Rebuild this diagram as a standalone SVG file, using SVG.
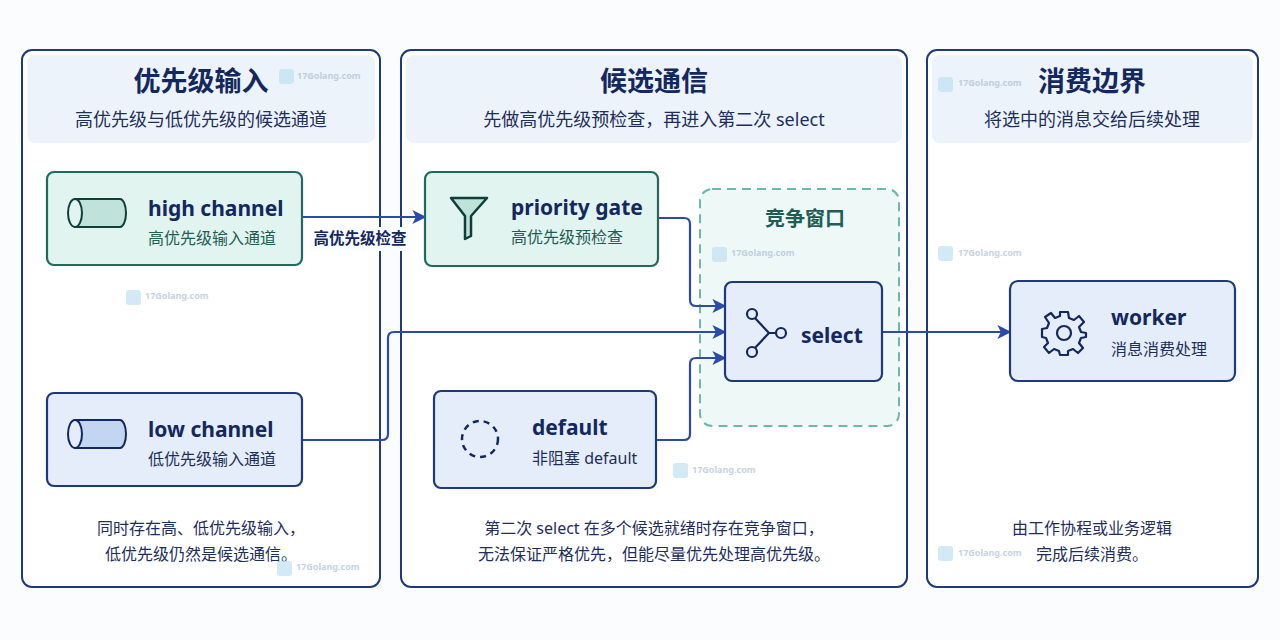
<svg xmlns="http://www.w3.org/2000/svg" width="1280" height="640" viewBox="0 0 1280 640">
<defs>
<style>
text{font-family:"Noto Sans","Noto Sans CJK SC",sans-serif}
.panel{fill:#ffffff;stroke:#1e3a7a;stroke-width:2}
.band{fill:#edf3fb}
.title{font-size:27px;font-weight:700;fill:#13285e;text-anchor:middle}
.sub{font-size:18px;fill:#1e2f5c;text-anchor:middle}
.foot{font-size:16px;fill:#1e2f5c;text-anchor:middle}
.tn{fill:#e2f4ef;stroke:#1f6b5e;stroke-width:2.2}
.bn{fill:#e4edf9;stroke:#1e3a7a;stroke-width:2.2}
.nt{font-size:21px;font-weight:700;fill:#13285e}
.ns{font-size:16px;fill:#1f5e55}
.nsb{font-size:16px;fill:#1e2f5c}
.conn{fill:none;stroke:#2c4ba8;stroke-width:2.2}
.wm{font-size:9px;font-weight:700;fill:#9fb6cf;opacity:0.6}
.wmi{fill:#bfe0f2;opacity:0.7}
</style>
<marker id="a" viewBox="0 0 10 10" refX="9" refY="5" markerWidth="14" markerHeight="14" orient="auto" markerUnits="userSpaceOnUse">
<path d="M0,0 L10,5 L0,10 L2.5,5 Z" fill="#2c4ba8"/>
</marker>
</defs>
<rect width="1280" height="640" fill="#fbfcfe"/>

<g id="panel-left">
<rect class="panel" x="22" y="50" width="358" height="537" rx="10"/>
<rect class="band" x="27" y="55" width="348" height="88" rx="8"/>
<text class="title" x="201" y="91">优先级输入</text>
<text class="sub" x="201" y="126">高优先级与低优先级的候选通道</text>
<text class="foot" x="201" y="534">同时存在高、低优先级输入，</text>
<text class="foot" x="201" y="560">低优先级仍然是候选通信。</text>
</g>
<g id="panel-mid">
<rect class="panel" x="401" y="50" width="506" height="537" rx="10"/>
<rect class="band" x="406" y="55" width="496" height="88" rx="8"/>
<text class="title" x="654" y="91">候选通信</text>
<text class="sub" x="654" y="126">先做高优先级预检查，再进入第二次 select</text>
<text class="foot" x="654" y="534">第二次 select 在多个候选就绪时存在竞争窗口，</text>
<text class="foot" x="654" y="560">无法保证严格优先，但能尽量优先处理高优先级。</text>
</g>
<g id="panel-right">
<rect class="panel" x="927" y="50" width="331" height="537" rx="10"/>
<rect class="band" x="932" y="55" width="321" height="88" rx="8"/>
<text class="title" x="1092" y="91">消费边界</text>
<text class="sub" x="1092" y="126">将选中的消息交给后续处理</text>
<text class="foot" x="1092" y="534">由工作协程或业务逻辑</text>
<text class="foot" x="1092" y="560">完成后续消费。</text>
</g>

<g id="window">
<rect x="700" y="189" width="199" height="237" rx="12" fill="#eef8f6" stroke="#6bb8ac" stroke-width="2" stroke-dasharray="9 6"/>
<text x="805" y="226" font-size="20" font-weight="700" fill="#1f5e55" text-anchor="middle">竞争窗口</text>
</g>

<g id="watermarks">
<rect class="wmi" x="279" y="69" width="15" height="15" rx="3"/><text class="wm" x="297" y="79">17Golang.com</text>
<rect class="wmi" x="126" y="290" width="15" height="15" rx="3"/><text class="wm" x="145" y="299">17Golang.com</text>
<rect class="wmi" x="712" y="247" width="15" height="15" rx="3"/><text class="wm" x="731" y="256">17Golang.com</text>
<rect class="wmi" x="673" y="463" width="15" height="15" rx="3"/><text class="wm" x="692" y="473">17Golang.com</text>
<rect class="wmi" x="277" y="561" width="15" height="15" rx="3"/><text class="wm" x="296" y="570">17Golang.com</text>
<rect class="wmi" x="938" y="77" width="15" height="15" rx="3"/><text class="wm" x="958" y="86">17Golang.com</text>
<rect class="wmi" x="938" y="246" width="15" height="15" rx="3"/><text class="wm" x="958" y="256">17Golang.com</text>
<rect class="wmi" x="938" y="546" width="15" height="15" rx="3"/><text class="wm" x="958" y="556">17Golang.com</text>
</g>

<g id="connectors">
<path class="conn" d="M302,217 H425" marker-end="url(#a)"/>
<path class="conn" d="M658,218 H684 Q690,218 690,224 V300 Q690,306 696,306 H725" marker-end="url(#a)"/>
<path class="conn" d="M302,440 H382 Q388,440 388,434 V338 Q388,332 394,332 H725" marker-end="url(#a)"/>
<path class="conn" d="M656,440 H684 Q690,440 690,434 V364 Q690,358 696,358 H725" marker-end="url(#a)"/>
<path class="conn" d="M882,332 H1010" marker-end="url(#a)"/>
<rect x="310" y="227" width="100" height="24" fill="#fbfcfe"/>
<text x="360" y="244" font-size="15.5" font-weight="700" fill="#13285e" text-anchor="middle">高优先级检查</text>
</g>

<g id="node-high">
<rect class="tn" x="47" y="172" width="255" height="93" rx="7"/>
<path d="M75,199 H120 A6,14 0 0 1 120,227 H75 Z" fill="#bfe3da" stroke="#0f3f3a" stroke-width="2"/>
<ellipse cx="75" cy="213" rx="7" ry="14" fill="#e2f4ef" stroke="#0f3f3a" stroke-width="2"/>
<text class="nt" x="148" y="216">high channel</text>
<text class="ns" x="148" y="244">高优先级输入通道</text>
</g>
<g id="node-low">
<rect class="bn" x="47" y="393" width="255" height="93" rx="7"/>
<path d="M75,420 H120 A6,14 0 0 1 120,448 H75 Z" fill="#c3d6f1" stroke="#13285e" stroke-width="2"/>
<ellipse cx="75" cy="434" rx="7" ry="14" fill="#e4edf9" stroke="#13285e" stroke-width="2"/>
<text class="nt" x="148" y="437">low channel</text>
<text class="nsb" x="148" y="465">低优先级输入通道</text>
</g>
<g id="node-gate">
<rect class="tn" x="425" y="172" width="233" height="94" rx="7"/>
<path d="M451,198 H487 L471,216 V236 L465,239 V216 Z" fill="#bfe3da" stroke="#0f3f3a" stroke-width="2.5" stroke-linejoin="round"/>
<text class="nt" x="511" y="215">priority gate</text>
<text class="ns" x="511" y="243">高优先级预检查</text>
</g>
<g id="node-default">
<rect class="bn" x="434" y="391" width="222" height="97" rx="7"/>
<circle cx="480" cy="439" r="18" fill="none" stroke="#13285e" stroke-width="2.5" stroke-dasharray="6 5"/>
<text class="nt" x="532" y="435">default</text>
<text class="nsb" x="532" y="464">非阻塞 default</text>
</g>
<g id="node-select">
<rect class="bn" x="725" y="282" width="157" height="99" rx="7"/>
<path d="M753,316 L769,333 L753,350 M769,333 H778" fill="none" stroke="#13285e" stroke-width="2.2"/>
<circle cx="752" cy="314" r="5" fill="#e4edf9" stroke="#13285e" stroke-width="2.2"/>
<circle cx="781" cy="333" r="5" fill="#e4edf9" stroke="#13285e" stroke-width="2.2"/>
<circle cx="752" cy="352" r="5" fill="#e4edf9" stroke="#13285e" stroke-width="2.2"/>
<text class="nt" x="801" y="343">select</text>
</g>
<g id="node-worker">
<rect class="bn" x="1010" y="281" width="225" height="100" rx="8"/>
<g transform="translate(1064,333)" fill="none" stroke="#13285e" stroke-width="2.2" stroke-linejoin="round">
<path d="M-4,-21 H4 L5,-15 L10,-13 L15,-17 L20,-11 L15,-6 L17,-1 L22,0 V0 L22,4 L17,5 L15,10 L19,15 L14,20 L9,16 L4,18 L4,22 H-4 L-5,18 L-10,16 L-15,20 L-20,14 L-16,10 L-18,5 L-22,4 V-4 L-17,-5 L-15,-10 L-19,-16 L-13,-20 L-9,-15 L-4,-17 Z"/>
<circle r="7"/>
</g>
<text class="nt" x="1111" y="325">worker</text>
<text class="nsb" x="1111" y="355">消息消费处理</text>
</g>
</svg>
